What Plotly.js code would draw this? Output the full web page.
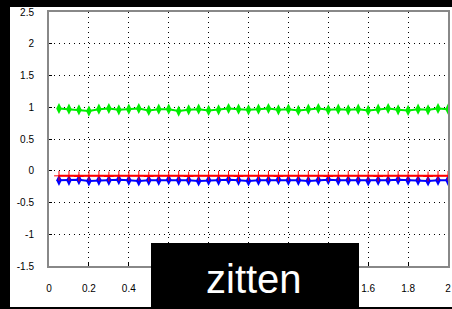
<!DOCTYPE html>
<html><head><meta charset="utf-8">
<script src="https://cdn.plot.ly/plotly-3.0.1.min.js"></script>
<style>html,body{margin:0;padding:0;background:#000;}#chart{width:452px;height:309px;}</style>
</head><body><div id="chart"></div>
<script>
const xVals = [0.05,0.10,0.15,0.20,0.25,0.30,0.35,0.40,0.45,0.50,0.55,0.60,0.65,0.70,0.75,0.80,0.85,0.90,0.95,1.00,
               1.05,1.10,1.15,1.20,1.25,1.30,1.35,1.40,1.45,1.50,1.55,1.60,1.65,1.70,1.75,1.80,1.85,1.90,1.95,2.00];
const greenVals = [0.98,0.97,0.96,0.94,0.97,0.98,0.96,0.97,0.98,0.95,0.97,0.97,0.94,0.96,0.97,0.95,0.96,0.98,0.97,0.96,
                   0.97,0.98,0.96,0.97,0.95,0.97,0.98,0.96,0.97,0.96,0.97,0.95,0.97,0.98,0.96,0.95,0.97,0.96,0.98,0.97];
const redVals = [-0.08,-0.08,-0.09,-0.08,-0.08,-0.09,-0.08,-0.08,-0.08,-0.09,-0.08,-0.08,-0.08,-0.09,-0.08,-0.08,-0.08,-0.08,-0.09,-0.08,
                 -0.08,-0.08,-0.09,-0.08,-0.08,-0.08,-0.08,-0.09,-0.08,-0.08,-0.08,-0.08,-0.09,-0.08,-0.08,-0.08,-0.08,-0.09,-0.08,-0.08];
const blueVals = [-0.15,-0.15,-0.14,-0.16,-0.15,-0.15,-0.14,-0.15,-0.16,-0.15,-0.15,-0.14,-0.15,-0.15,-0.16,-0.15,-0.15,-0.14,-0.15,-0.16,
                  -0.15,-0.15,-0.14,-0.15,-0.15,-0.16,-0.15,-0.14,-0.15,-0.15,-0.15,-0.16,-0.15,-0.15,-0.14,-0.15,-0.15,-0.16,-0.15,-0.15];
const xTicks = [0,0.2,0.4,0.6,0.8,1,1.2,1.4,1.6,1.8,2];
const xTickText = ['0','0.2','0.4','0.6','0.8','1','1.2','1.4','1.6','1.8','2'];
const yTicks = [-1.5,-1,-0.5,0,0.5,1,1.5,2,2.5];
const yTickText = ['-1.5','-1','-0.5','0','0.5','1','1.5','2','2.5'];
const caption = 'zitten';

const traces = [
  {x:xVals, y:blueVals, mode:'lines+markers', line:{color:'#0000ff',width:2}, marker:{symbol:'diamond-tall',size:8,color:'#0000ff'}},
  {x:xVals, y:redVals, mode:'lines+markers', line:{color:'#ff0000',width:2}, marker:{symbol:'cross-thin-open',size:7,color:'#ff0000',line:{color:'#ff0000',width:1}}},
  {x:xVals, y:greenVals, mode:'lines+markers', line:{color:'#00ee00',width:2}, marker:{symbol:'diamond-tall',size:8,color:'#00ee00'}}
];
const L=49,R=4,T=12,B=43,W=452,H=309;
const pw=W-L-R, ph=H-T-B;
const px=v=>(v-L)/pw, py=v=>(H-B-v)/ph;
const axisCommon = {showgrid:true, gridcolor:'#000', griddash:'1px,4px', gridwidth:1,
         zeroline:false, showline:true, linecolor:'#888', linewidth:2, mirror:true, ticks:'inside', ticklen:3, tickcolor:'#000',
         tickfont:{size:10,color:'#000'}};
const layout = {
  width:W, height:H, margin:{l:L,r:R,t:T,b:B},
  paper_bgcolor:'#000', plot_bgcolor:'#fff', showlegend:false,
  font:{family:'Liberation Sans, Arial, sans-serif', size:10, color:'#000'},
  xaxis:Object.assign({range:[0,2], tickvals:xTicks, ticktext:xTickText, ticklabelstandoff:12}, axisCommon),
  yaxis:Object.assign({range:[-1.5,2.5], tickvals:yTicks, ticktext:yTickText, ticklabelstandoff:11}, axisCommon),
  shapes:[
    {type:'rect', xref:'paper', yref:'paper', x0:px(10), x1:px(452), y0:py(307), y1:py(7), fillcolor:'#fff', line:{width:0}, layer:'below'},
    {type:'rect', xref:'paper', yref:'paper', x0:px(151), x1:px(359), y0:py(310), y1:py(243), fillcolor:'#000', line:{width:0}, layer:'above'}
  ],
  annotations:[
    {xref:'paper', yref:'paper', x:px(254), y:py(279), text:caption, showarrow:false, xanchor:'center', yanchor:'middle',
     font:{family:'Liberation Sans, Arial, sans-serif', size:40, color:'#fff'}}
  ]
};
Plotly.newPlot('chart', traces, layout, {displayModeBar:false, staticPlot:true});
</script></body></html>
